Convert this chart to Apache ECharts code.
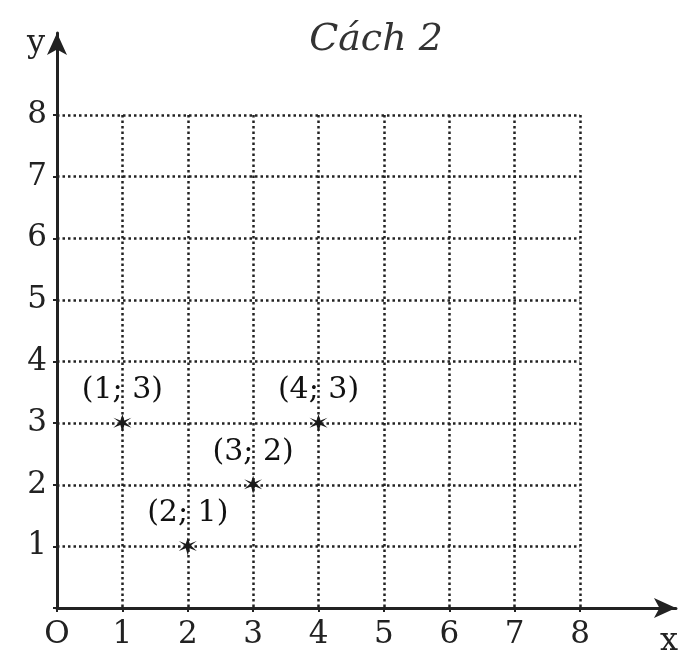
<!DOCTYPE html>
<html><head><meta charset="utf-8">
<script src="https://cdn.jsdelivr.net/npm/echarts@6/dist/echarts.min.js"></script>
<style>html,body{margin:0;padding:0;background:#fff}#c{width:681px;height:659px}</style>
</head><body><div id="c"></div>
<script>
const pointX = [1, 2, 3, 4];
const pointY = [3, 1, 2, 3];
const pointLabels = ['(1; 3)', '(2; 1)', '(3; 2)', '(4; 3)'];
const axisMin = 0, axisMax = 8, axisInterval = 1;
const titleText = 'Cách 2';
const xName = 'x', yName = 'y', originLabel = 'O';

const ink = '#222';
const serif = '"DejaVu Serif", "Liberation Serif", serif';
const star = 'path://M0,-10 L2,-3 L9,-6 L3,-1 L9,5 L2,2 L0,10 L-2,2 L-9,5 L-3,-1 L-9,-6 L-2,-3 Z';

const chart = echarts.init(document.getElementById('c'));
chart.setOption({
  backgroundColor: '#fff',
  animation: false,
  title: {
    text: titleText, left: 371, top: 16, textAlign: 'center',
    textStyle: {fontFamily: serif, fontStyle: 'italic', fontWeight: 'normal', fontSize: 38, color: '#333'}
  },
  grid: [
    {left: 57, top: 115, right: 101, bottom: 51},
    {left: 57, top: 33, right: 2, bottom: 51}
  ],
  xAxis: [
    {gridIndex: 0, type: 'value', min: axisMin, max: axisMax, interval: axisInterval,
     axisLine: {show: false}, axisTick: {show: true, length: 4, inside: false, lineStyle: {color: ink, width: 2}},
     splitLine: {show: true, lineStyle: {color: ink, width: 2.5, type: [2.5, 3]}},
     axisLabel: {fontFamily: serif, fontSize: 31, color: ink, margin: 11,
       formatter: v => v === 0 ? originLabel : String(v)}},
    {gridIndex: 1, type: 'value', min: 0, max: 1,
     axisLine: {show: true, lineStyle: {color: ink, width: 3}, symbol: ['none', 'arrow'], symbolSize: [15, 22]},
     axisTick: {show: false}, splitLine: {show: false}, axisLabel: {show: false},
     name: xName, nameLocation: 'end', nameGap: -16,
     nameTextStyle: {fontFamily: serif, fontSize: 32, color: ink, verticalAlign: 'top', padding: [18, 0, 0, 0]}}
  ],
  yAxis: [
    {gridIndex: 0, type: 'value', min: axisMin, max: axisMax, interval: axisInterval,
     axisLine: {show: false}, axisTick: {show: true, length: 4, lineStyle: {color: ink, width: 2}},
     splitLine: {show: true, lineStyle: {color: ink, width: 2.5, type: [2.5, 3]}},
     axisLabel: {fontFamily: serif, fontSize: 31, color: ink, margin: 10,
       formatter: v => v === 0 ? '' : String(v)}},
    {gridIndex: 1, type: 'value', min: 0, max: 1,
     axisLine: {show: true, lineStyle: {color: ink, width: 3}, symbol: ['none', 'arrow'], symbolSize: [15, 22]},
     axisTick: {show: false}, splitLine: {show: false}, axisLabel: {show: false},
     name: yName, nameLocation: 'end', nameGap: -27,
     nameTextStyle: {fontFamily: serif, fontSize: 32, color: ink, align: 'right', padding: [0, 12, 0, 0]}}
  ],
  series: [{
    type: 'scatter', xAxisIndex: 0, yAxisIndex: 0,
    symbol: star, symbolSize: 18,
    itemStyle: {color: '#1a1a1a', opacity: 1},
    label: {show: true, position: 'top', distance: 9, fontFamily: serif, fontSize: 30, color: '#111', opacity: 1,
      formatter: p => pointLabels[p.dataIndex]},
    emphasis: {disabled: true},
    data: pointX.map((x, i) => [x, pointY[i]])
  }]
});
</script></body></html>
